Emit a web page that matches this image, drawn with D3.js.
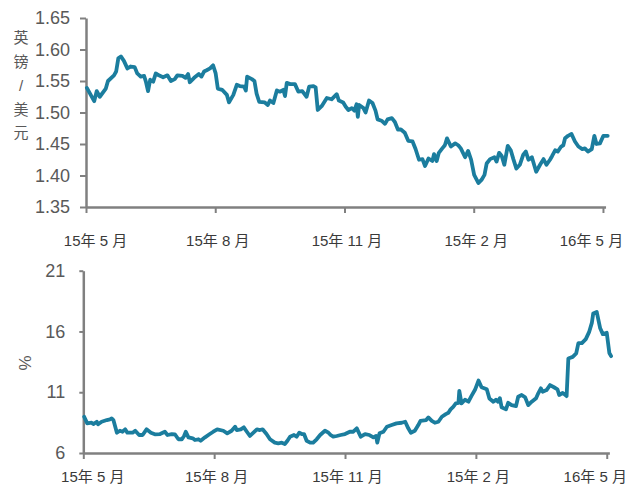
<!DOCTYPE html>
<html><head><meta charset="utf-8">
<script src="https://cdn.jsdelivr.net/npm/d3@7"></script>
<style>body{margin:0;background:#fff}svg{display:block}</style>
</head><body><svg id="c" width="630" height="486"></svg>
<script>
// x positions are months since May 2015
const xTickMonths = [0, 3, 6, 9, 12];
const xTickLabels = ["15年 5 月", "15年 8 月", "15年 11 月", "15年 2 月", "16年 5 月"];

const fxTicks = [1.35, 1.40, 1.45, 1.50, 1.55, 1.60, 1.65];
const fxMonths = [0.02,0.19,0.25,0.32,0.46,0.51,0.65,0.70,0.75,0.81,0.88,0.96,1.04,1.13,1.19,1.27,1.35,1.39,1.44,1.49,1.56,1.62,1.69,1.79,1.89,1.97,2.06,2.12,2.24,2.31,2.37,2.41,2.51,2.62,2.68,2.74,2.80,2.88,2.95,3.01,3.06,3.16,3.27,3.32,3.42,3.50,3.57,3.67,3.71,3.74,3.85,3.91,3.96,4.02,4.15,4.22,4.27,4.35,4.43,4.50,4.58,4.62,4.66,4.74,4.85,4.93,5.02,5.12,5.18,5.28,5.33,5.38,5.47,5.59,5.70,5.82,5.87,5.97,6.03,6.09,6.17,6.23,6.28,6.31,6.34,6.44,6.49,6.57,6.65,6.72,6.77,6.86,6.94,7.00,7.10,7.17,7.24,7.31,7.40,7.48,7.58,7.65,7.73,7.81,7.87,7.95,8.04,8.08,8.14,8.19,8.27,8.33,8.38,8.47,8.57,8.64,8.70,8.80,8.87,8.94,9.01,9.11,9.18,9.25,9.30,9.38,9.48,9.53,9.59,9.65,9.71,9.79,9.86,9.92,9.99,10.07,10.15,10.21,10.27,10.35,10.45,10.54,10.62,10.69,10.77,10.82,10.89,10.95,11.03,11.08,11.12,11.19,11.27,11.35,11.43,11.52,11.58,11.65,11.74,11.80,11.85,11.93,12.01,12.11];
const fxValues = [1.539,1.518,1.534,1.525,1.538,1.550,1.559,1.565,1.586,1.589,1.582,1.570,1.573,1.572,1.562,1.557,1.558,1.549,1.534,1.552,1.549,1.562,1.559,1.556,1.559,1.550,1.553,1.559,1.558,1.555,1.561,1.548,1.555,1.561,1.557,1.565,1.567,1.570,1.575,1.562,1.538,1.536,1.528,1.516,1.528,1.544,1.542,1.541,1.535,1.557,1.553,1.550,1.530,1.517,1.516,1.512,1.519,1.515,1.535,1.533,1.536,1.526,1.547,1.545,1.545,1.533,1.534,1.525,1.541,1.542,1.540,1.504,1.510,1.523,1.521,1.529,1.519,1.516,1.509,1.504,1.507,1.503,1.513,1.493,1.512,1.507,1.500,1.519,1.515,1.503,1.489,1.487,1.482,1.489,1.491,1.485,1.473,1.473,1.468,1.455,1.454,1.442,1.425,1.426,1.415,1.427,1.423,1.434,1.423,1.436,1.443,1.448,1.459,1.446,1.451,1.448,1.443,1.429,1.439,1.425,1.401,1.388,1.393,1.401,1.419,1.426,1.429,1.422,1.436,1.431,1.417,1.447,1.440,1.426,1.411,1.417,1.433,1.438,1.425,1.429,1.406,1.417,1.426,1.417,1.425,1.431,1.440,1.438,1.446,1.448,1.459,1.463,1.466,1.454,1.446,1.442,1.443,1.438,1.442,1.463,1.450,1.451,1.463,1.463];

const volTicks = [6, 11, 16, 21];
const volMonths = [0.02,0.09,0.19,0.23,0.31,0.34,0.42,0.54,0.61,0.65,0.69,0.77,0.84,0.90,0.96,1.01,1.13,1.19,1.28,1.36,1.45,1.55,1.64,1.76,1.87,1.93,2.03,2.10,2.18,2.26,2.31,2.35,2.41,2.51,2.56,2.64,2.69,2.79,2.90,2.98,3.07,3.21,3.30,3.40,3.48,3.52,3.61,3.68,3.75,3.82,3.90,3.98,4.05,4.11,4.20,4.28,4.39,4.47,4.55,4.62,4.68,4.74,4.83,4.89,4.95,5.01,5.06,5.12,5.20,5.27,5.35,5.43,5.54,5.62,5.67,5.73,5.81,5.90,6.00,6.11,6.19,6.27,6.36,6.46,6.56,6.65,6.71,6.74,6.79,6.88,6.96,7.07,7.18,7.30,7.38,7.45,7.51,7.60,7.68,7.73,7.86,7.91,7.99,8.06,8.14,8.22,8.31,8.37,8.42,8.48,8.54,8.60,8.62,8.67,8.75,8.83,8.90,8.98,9.06,9.13,9.25,9.31,9.40,9.46,9.51,9.55,9.59,9.69,9.74,9.82,9.92,9.97,10.05,10.13,10.20,10.28,10.38,10.43,10.49,10.53,10.62,10.70,10.79,10.87,10.91,10.99,11.08,11.12,11.22,11.30,11.35,11.43,11.52,11.60,11.66,11.69,11.77,11.85,11.91,12.00,12.06,12.10];
const volValues = [8.98,8.44,8.49,8.38,8.57,8.36,8.57,8.71,8.77,8.85,8.71,7.67,7.83,7.75,7.95,7.67,7.67,7.83,7.48,7.48,7.95,7.67,7.54,7.56,7.75,7.48,7.56,7.54,7.13,7.13,7.40,7.75,7.29,7.21,7.07,7.13,7.01,7.29,7.56,7.75,7.95,7.83,7.62,7.83,8.16,7.89,7.95,8.11,7.75,7.40,7.67,7.95,7.89,7.95,7.56,7.13,6.85,6.80,6.85,6.74,7.01,7.34,7.48,7.34,7.67,7.56,7.56,7.01,6.85,6.85,7.13,7.48,7.83,7.67,7.48,7.34,7.40,7.48,7.56,7.75,7.75,8.03,7.34,7.56,7.48,7.29,7.40,6.85,7.62,7.75,8.16,8.30,8.44,8.49,8.57,8.03,7.67,7.83,8.30,8.65,8.71,8.93,8.65,8.49,8.57,8.98,9.20,9.31,9.59,9.80,10.08,10.13,11.11,10.08,10.38,10.22,10.70,11.20,11.96,11.41,11.24,10.49,10.22,10.38,10.22,10.51,9.76,9.59,10.13,9.94,9.86,10.63,10.77,10.58,9.94,10.22,10.51,10.91,11.32,11.04,11.18,11.59,11.41,11.24,10.77,10.95,10.68,13.78,13.91,14.19,15.04,15.04,15.37,15.99,16.73,17.48,17.61,16.26,15.78,15.89,14.23,13.97];

const LINE = "#1b7d9e", AXIS = "#808080", TXT = "#595959", XTXT = "#3a3a3a";
const FONT = "'Liberation Sans', Arial, 'Noto Sans CJK SC', sans-serif";
const svg = d3.select("#c");
svg.append("rect").attr("width", 630).attr("height", 486).attr("fill", "#fff");

function panel(cfg) {
  const x = d3.scaleLinear().domain([0, 12.06]).range([cfg.x0, cfg.x0 + 12.06 * cfg.pxPerMonth]);
  const y = d3.scaleLinear().domain(cfg.yDomain).range(cfg.yRange);
  const g = svg.append("g");

  const ya = g.append("g").attr("transform", `translate(${cfg.x0},0)`)
    .call(d3.axisLeft(y).tickValues(cfg.yTicks).tickFormat(cfg.yFmt)
      .tickSize(cfg.yTickLen).tickSizeOuter(0).tickPadding(cfg.yPad));
  ya.select(".domain").attr("stroke", AXIS).attr("stroke-width", 2.5);
  ya.selectAll(".tick line").attr("stroke", AXIS).attr("stroke-width", 2);
  ya.selectAll(".tick text").attr("fill", TXT).style("font-family", FONT).style("font-size", "18px");

  const xa = g.append("g").attr("transform", `translate(0,${cfg.yRange[0]})`)
    .call(d3.axisBottom(x).tickValues(xTickMonths).tickFormat((d, i) => xTickLabels[i])
      .tickSize(6).tickSizeOuter(0).tickPadding(cfg.xPad));
  xa.select(".domain").attr("stroke", AXIS).attr("stroke-width", 2.5);
  xa.selectAll(".tick line").attr("stroke", AXIS).attr("stroke-width", 2);
  xa.selectAll(".tick text").attr("fill", XTXT).style("font-family", FONT).style("font-size", "15px")
    .attr("dx", (d, i) => i === 0 ? 9 : (i === xTickMonths.length - 1 ? -12 : 2));

  const data = cfg.months.map((m, i) => [m, cfg.values[i]]);
  g.append("path").datum(data)
    .attr("fill", "none").attr("stroke", LINE).attr("stroke-width", 3.8)
    .attr("stroke-linejoin", "round").attr("stroke-linecap", "round")
    .attr("d", d3.line().x(d => x(d[0])).y(d => y(d[1])));
  return g;
}

panel({x0: 86, pxPerMonth: 43.08, yDomain: [1.35, 1.65], yRange: [207, 18], yTicks: fxTicks,
  yFmt: d3.format(".2f"), yTickLen: 6, yPad: 10, xPad: 22, months: fxMonths, values: fxValues});
panel({x0: 83.3, pxPerMonth: 43.62, yDomain: [6, 21], yRange: [453, 270.7], yTicks: volTicks,
  yFmt: d3.format("d"), yTickLen: 4, yPad: 14, xPad: 12, months: volMonths, values: volValues});

// vertical stacked y title (top)
const title = ["英", "镑", "/", "美", "元"];
svg.append("g").selectAll("text").data(title).join("text")
  .attr("x", 21).attr("y", (d, i) => 38 + i * 23.8).attr("dy", "0.35em")
  .attr("text-anchor", "middle").attr("fill", TXT)
  .style("font-family", FONT).style("font-size", "15px").text(d => d);

// % title (bottom)
svg.append("text").attr("transform", "translate(25,363) rotate(-90)")
  .attr("text-anchor", "middle").attr("dy", "0.35em").attr("fill", TXT)
  .style("font-family", FONT).style("font-size", "17px").text("%");
</script></body></html>
